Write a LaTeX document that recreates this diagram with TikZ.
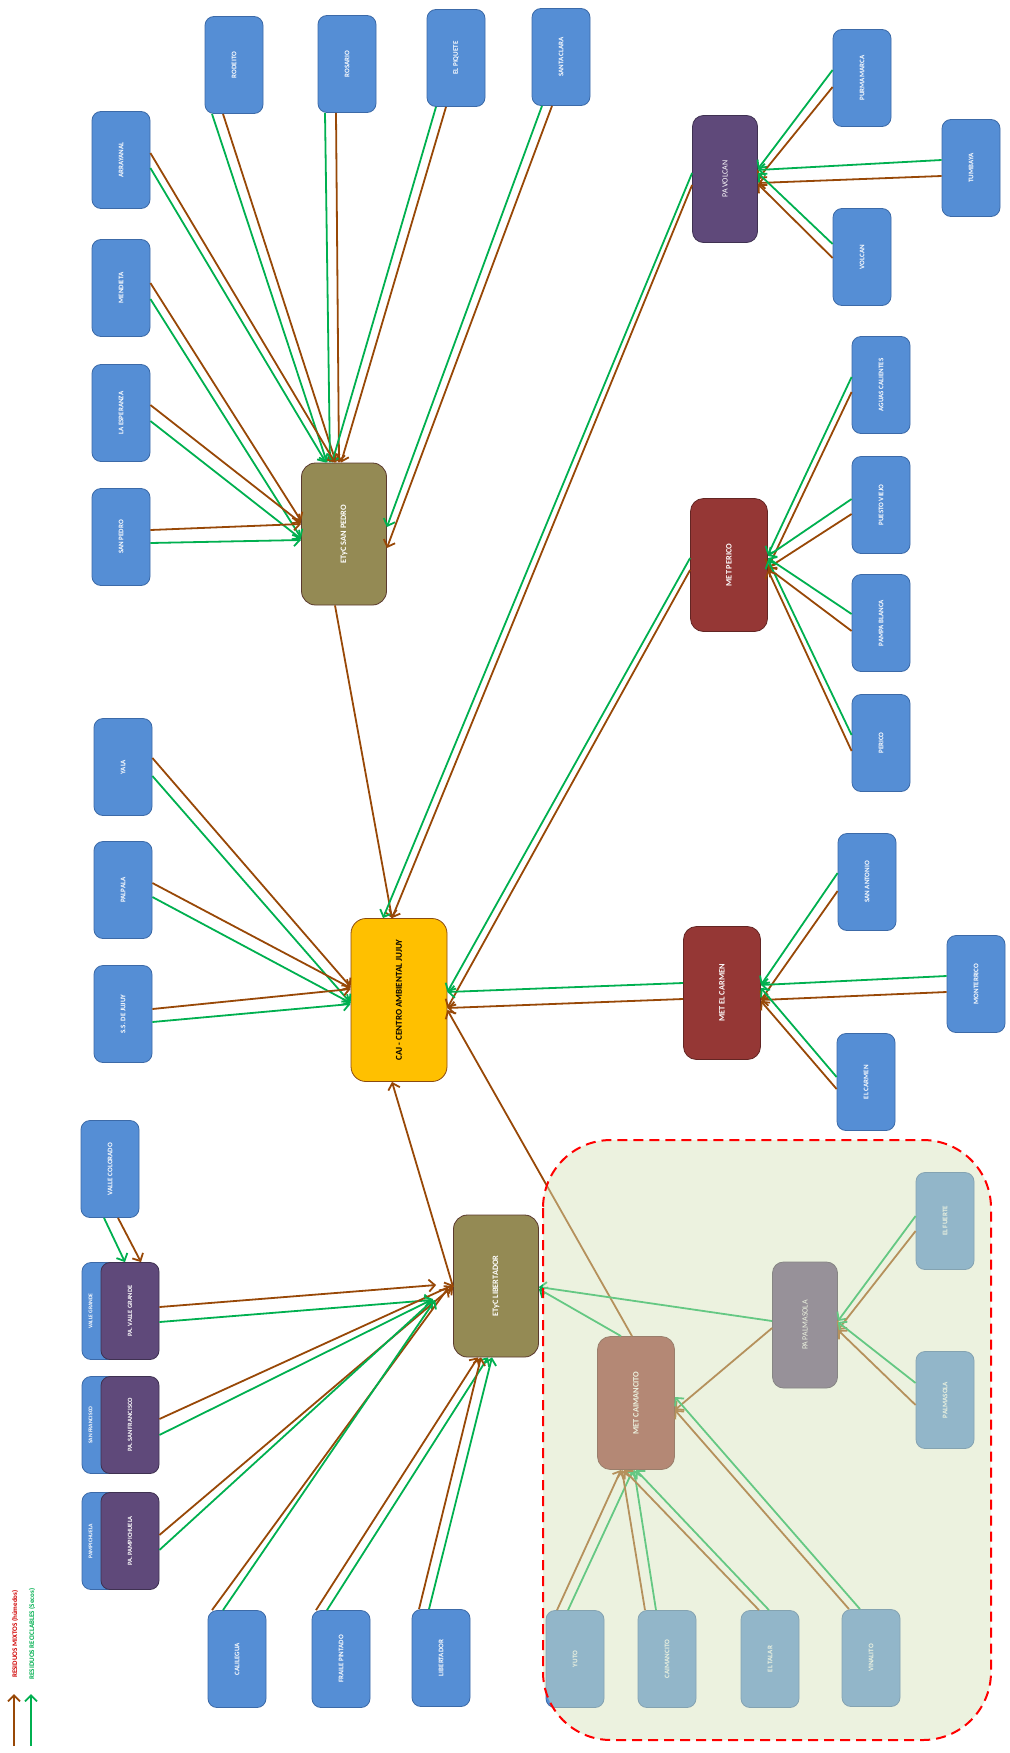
\documentclass[tikz,border=0pt]{standalone}
\usepackage{fontspec}
\setmainfont{Carlito}
\usepackage{graphicx}
\usetikzlibrary{arrows.meta}
\definecolor{cblue}{HTML}{558ED5}
\definecolor{cblueb}{HTML}{3C6AA8}
\definecolor{cpurple}{HTML}{5F497A}
\definecolor{cpurpleb}{HTML}{3F3151}
\definecolor{colive}{HTML}{948A54}
\definecolor{colivb}{HTML}{5B3A2E}
\definecolor{cred}{HTML}{953735}
\definecolor{credb}{HTML}{632523}
\definecolor{ccaj}{HTML}{FFC000}
\definecolor{ccajb}{HTML}{8B4A10}
\definecolor{cmix}{HTML}{984807}
\definecolor{crec}{HTML}{00B050}
\definecolor{cregion}{HTML}{D7E4BD}
\definecolor{clegred}{HTML}{D00000}
\newcommand\vtext[1]{\rotatebox{90}{#1}}
\begin{document}
\begin{tikzpicture}[x=1pt,y=-1pt,
  box/.style={rectangle, rounded corners=9pt, line width=0.8pt, inner sep=0pt,
    minimum width=58pt, minimum height=97pt, align=center},
  town/.style={box, fill=cblue, draw=cblueb, text=white, font=\bfseries\fontsize{7}{8}\selectfont},
  pabig/.style={box, fill=cpurple, draw=cpurpleb, text=white, font=\fontsize{8}{9}\selectfont,
    minimum width=65pt, minimum height=127pt, rounded corners=11pt},
  pasmall/.style={box, fill=cpurple, draw=cpurpleb, text=white, font=\bfseries\fontsize{6.5}{7}\selectfont},
  etyc/.style={box, fill=colive, draw=colivb, text=white, font=\bfseries\fontsize{8.3}{9}\selectfont,
    minimum width=85pt, minimum height=142pt, rounded corners=14pt},
  met/.style={box, fill=cred, draw=credb, text=white, font=\bfseries\fontsize{8.3}{9}\selectfont,
    minimum width=77pt, minimum height=133pt, rounded corners=13pt},
  cajbox/.style={box, fill=ccaj, draw=ccajb, text=black, font=\bfseries\fontsize{9}{10}\selectfont,
    minimum width=96pt, minimum height=163pt, rounded corners=15pt},
  sublab/.style={inner sep=0pt, text=white, font=\bfseries\fontsize{5.6}{6}\selectfont},
  legtext/.style={inner sep=0pt, font=\bfseries\fontsize{7}{8}\selectfont},
  mix/.style={draw=cmix, line width=1.8pt, -{Straight Barb[length=6pt,width=12pt]}},
  rec/.style={draw=crec, line width=1.8pt, -{Straight Barb[length=6pt,width=12pt]}}
]
\useasboundingbox (0,0) rectangle (1009,1753);
\fill[white] (0,0) rectangle (1009,1753);

% ---------- nodes ----------
\node[town] (rodeito) at (234,65) {\vtext{RODEITO}};
\node[town] (rosario) at (347,64) {\vtext{ROSARIO}};
\node[town] (elpiquete) at (456,58) {\vtext{EL PIQUETE}};
\node[town] (santaclara) at (561,57) {\vtext{SANTA CLARA}};
\node[town] (arrayanal) at (121,160) {\vtext{ARRAYANAL}};
\node[town] (mendieta) at (121,288) {\vtext{MENDIETA}};
\node[town] (laesperanza) at (121,413) {\vtext{LA ESPERANZA}};
\node[town] (sanpedro) at (121,537) {\vtext{SAN PEDRO}};
\node[etyc] (etycsp) at (344,534) {\vtext{ETyC SAN PEDRO}};

\node[pabig] (pavolcan) at (725,179) {\vtext{PA VOLCAN}};
\node[town] (purmamarca) at (862,78) {\vtext{PURMAMARCA}};
\node[town] (tumbaya) at (971,168) {\vtext{TUMBAYA}};
\node[town] (volcan) at (862,257) {\vtext{VOLCAN}};

\node[met] (metperico) at (729,565) {\vtext{MET PERICO}};
\node[town] (aguascal) at (881,385) {\vtext{AGUAS CALIENTES}};
\node[town] (puestoviejo) at (881,505) {\vtext{PUESTO VIEJO}};
\node[town] (pampablanca) at (881,623) {\vtext{PAMPA BLANCA}};
\node[town] (perico) at (881,743) {\vtext{PERICO}};

\node[town] (yala) at (123,767) {\vtext{YALA}};
\node[town] (palpala) at (123,890) {\vtext{PALPALA}};
\node[town] (ssjujuy) at (123,1014) {\vtext{S.S. DE JUJUY}};
\node[cajbox] (caj) at (399,1000) {\vtext{CAJ - CENTRO AMBIENTAL JUJUY}};

\node[met] (metcarmen) at (722,993) {\vtext{MET EL CARMEN}};
\node[town] (sanantonio) at (867,882) {\vtext{SAN ANTONIO}};
\node[town] (monterrico) at (976,984) {\vtext{MONTERRICO}};
\node[town] (elcarmen) at (866,1082) {\vtext{EL CARMEN}};

\node[town] (vallecolorado) at (110,1169) {\vtext{VALLE COLORADO}};
\node[town] (vallegrande) at (111,1311) {};
\node[sublab] (vglab) at ([shift={(9,0)}]vallegrande.west) {\vtext{VALLE GRANDE}};
\node[pasmall] (pavallegrande) at (130,1311) {\vtext{PA. VALLE GRANDE}};
\node[town] (sanfrancisco) at (111,1425) {};
\node[sublab] (sflab) at ([shift={(9,0)}]sanfrancisco.west) {\vtext{SAN FRANCISCO}};
\node[pasmall] (pasanfrancisco) at (130,1425) {\vtext{PA. SAN FRANCISCO}};
\node[town] (pampichuela) at (111,1541) {};
\node[sublab] (pplab) at ([shift={(9,0)}]pampichuela.west) {\vtext{PAMPICHUELA}};
\node[pasmall] (papampichuela) at (130,1541) {\vtext{PA. PAMPICHUELA}};

\node[etyc] (etyclib) at (496,1286) {\vtext{ETyC LIBERTADOR}};
\node[town] (calilegua) at (237,1659) {\vtext{CALILEGUA}};
\node[town] (frailepintado) at (341,1659) {\vtext{FRAILE PINTADO}};
\node[town] (libertador) at (441,1658) {\vtext{LIBERTADOR}};

\node[met] (metcaimancito) at (636,1403) {\vtext{MET CAIMANCITO}};
\node[pabig, minimum height=126pt] (papalmasola) at (805,1325) {\vtext{PA PALMASOLA}};
\node[town] (elfuerte) at (945,1221) {\vtext{EL FUERTE}};
\node[town] (palmasola) at (945,1400) {\vtext{PALMASOLA}};
\node[town] (yuto) at (575,1659) {\vtext{YUTO}};
\node[town] (caimancito) at (667,1659) {\vtext{CAIMANCITO}};
\node[town] (eltalar) at (770,1659) {\vtext{EL TALAR}};
\node[town] (vinalito) at (871,1658) {\vtext{VINALITO}};

% ---------- connectors: San Pedro ----------
\draw[rec] ([shift={(-22,0)}]rodeito.south) -- ([shift={(-17,0)}]etycsp.north);
\draw[mix] ([shift={(-11,0)}]rodeito.south) -- ([shift={(-8,0)}]etycsp.north);
\draw[rec] ([shift={(-22,0)}]rosario.south) -- ([shift={(-14,0)}]etycsp.north);
\draw[mix] ([shift={(-11,0)}]rosario.south) -- ([shift={(-5,0)}]etycsp.north);
\draw[rec] ([shift={(-20,0)}]elpiquete.south) -- ([shift={(-12,0)}]etycsp.north);
\draw[mix] ([shift={(-10,0)}]elpiquete.south) -- ([shift={(-3,0)}]etycsp.north);
\draw[rec] ([shift={(-19,0)}]santaclara.south) -- ([shift={(0,-7)}]etycsp.east);
\draw[mix] ([shift={(-9,0)}]santaclara.south) -- ([shift={(0,14)}]etycsp.east);
\draw[mix] ([shift={(0,-7)}]arrayanal.east) -- ([shift={(-9,0)}]etycsp.north);
\draw[rec] ([shift={(0,8)}]arrayanal.east) -- ([shift={(-18,0)}]etycsp.north);
\draw[mix] ([shift={(0,-5)}]mendieta.east) -- ([shift={(0,-13)}]etycsp.west);
\draw[rec] ([shift={(0,11)}]mendieta.east) -- ([shift={(0,4)}]etycsp.west);
\draw[mix] ([shift={(0,-8)}]laesperanza.east) -- ([shift={(0,-11)}]etycsp.west);
\draw[rec] ([shift={(0,8)}]laesperanza.east) -- ([shift={(0,5)}]etycsp.west);
\draw[mix] ([shift={(0,-7)}]sanpedro.east) -- ([shift={(0,-10)}]etycsp.west);
\draw[rec] ([shift={(0,6)}]sanpedro.east) -- ([shift={(0,6)}]etycsp.west);
\draw[mix] ([shift={(-9,0)}]etycsp.south) -- ([shift={(-7,0)}]caj.north);

% ---------- PA Volcan ----------
\draw[rec] ([shift={(0,-8)}]purmamarca.west) -- ([shift={(0,-10)}]pavolcan.east);
\draw[mix] ([shift={(0,9)}]purmamarca.west) -- ([shift={(0,0)}]pavolcan.east);
\draw[rec] ([shift={(0,-8)}]tumbaya.west) -- ([shift={(0,-9)}]pavolcan.east);
\draw[mix] ([shift={(0,8)}]tumbaya.west) -- ([shift={(0,4)}]pavolcan.east);
\draw[rec] ([shift={(0,-13)}]volcan.west) -- ([shift={(0,-6)}]pavolcan.east);
\draw[mix] ([shift={(0,1)}]volcan.west) -- ([shift={(0,5)}]pavolcan.east);
\draw[rec] ([shift={(0,-6)}]pavolcan.west) -- ([shift={(-16,0)}]caj.north);
\draw[mix] ([shift={(0,6)}]pavolcan.west) -- ([shift={(-7,0)}]caj.north);

% ---------- MET Perico ----------
\draw[rec] ([shift={(0,-8)}]aguascal.west) -- ([shift={(0,-10)}]metperico.east);
\draw[mix] ([shift={(0,7)}]aguascal.west) -- ([shift={(0,3)}]metperico.east);
\draw[rec] ([shift={(0,-6)}]puestoviejo.west) -- ([shift={(0,-9)}]metperico.east);
\draw[mix] ([shift={(0,9)}]puestoviejo.west) -- ([shift={(0,3)}]metperico.east);
\draw[rec] ([shift={(0,-9)}]pampablanca.west) -- ([shift={(0,-7)}]metperico.east);
\draw[mix] ([shift={(0,8)}]pampablanca.west) -- ([shift={(0,3)}]metperico.east);
\draw[rec] ([shift={(0,-8)}]perico.west) -- ([shift={(0,-5)}]metperico.east);
\draw[mix] ([shift={(0,8)}]perico.west) -- ([shift={(0,5)}]metperico.east);
\draw[rec] ([shift={(0,-7)}]metperico.west) -- ([shift={(0,-8)}]caj.east);
\draw[mix] ([shift={(0,5)}]metperico.west) -- ([shift={(0,8)}]caj.east);

% ---------- left towns to CAJ ----------
\draw[mix] ([shift={(0,-9)}]yala.east) -- ([shift={(0,-13)}]caj.west);
\draw[rec] ([shift={(0,9)}]yala.east) -- ([shift={(0,3)}]caj.west);
\draw[mix] ([shift={(0,-7)}]palpala.east) -- ([shift={(0,-12)}]caj.west);
\draw[rec] ([shift={(0,7)}]palpala.east) -- ([shift={(0,3)}]caj.west);
\draw[mix] ([shift={(0,-5)}]ssjujuy.east) -- ([shift={(0,-11)}]caj.west);
\draw[rec] ([shift={(0,8)}]ssjujuy.east) -- ([shift={(0,4)}]caj.west);

% ---------- MET El Carmen ----------
\draw[rec] ([shift={(0,-9)}]sanantonio.west) -- ([shift={(0,-8)}]metcarmen.east);
\draw[mix] ([shift={(0,9)}]sanantonio.west) -- ([shift={(0,7)}]metcarmen.east);
\draw[rec] ([shift={(0,-8)}]monterrico.west) -- ([shift={(0,-8)}]metcarmen.east);
\draw[mix] ([shift={(0,8)}]monterrico.west) -- ([shift={(0,7)}]metcarmen.east);
\draw[rec] ([shift={(0,-5)}]elcarmen.west) -- ([shift={(0,-5)}]metcarmen.east);
\draw[mix] ([shift={(0,7)}]elcarmen.west) -- ([shift={(0,8)}]metcarmen.east);
\draw[rec] ([shift={(0,-10)}]metcarmen.west) -- ([shift={(0,-8)}]caj.east);
\draw[mix] ([shift={(0,6)}]metcarmen.west) -- ([shift={(0,8)}]caj.east);

% ---------- to CAJ from the south ----------
\draw[mix] ([shift={(0,1)}]etyclib.west) -- ([shift={(-7,0)}]caj.south);
\draw[mix] ([shift={(-4,0)}]metcaimancito.north) -- ([shift={(0,10)}]caj.east);

% ---------- ETyC Libertador ----------
\draw[rec] ([shift={(-6,0)}]vallecolorado.south) -- ([shift={(-5,0)}]pavallegrande.north);
\draw[mix] ([shift={(8,0)}]vallecolorado.south) -- ([shift={(11,0)}]pavallegrande.north);
\draw[mix] ([shift={(0,-4)}]pavallegrande.east) -- ([shift={(-17,-1)}]etyclib.west);
\draw[rec] ([shift={(0,11)}]pavallegrande.east) -- ([shift={(-21,14)}]etyclib.west);
\draw[mix] ([shift={(0,-6)}]pasanfrancisco.east) -- ([shift={(0,-1)}]etyclib.west);
\draw[rec] ([shift={(0,10)}]pasanfrancisco.east) -- ([shift={(-20,13)}]etyclib.west);
\draw[mix] ([shift={(0,-6)}]papampichuela.east) -- ([shift={(0,0)}]etyclib.west);
\draw[rec] ([shift={(0,9)}]papampichuela.east) -- ([shift={(-20,14)}]etyclib.west);
\draw[mix] ([shift={(-25,0)}]calilegua.north) -- ([shift={(-5,2)}]etyclib.west);
\draw[rec] ([shift={(-14,0)}]calilegua.north) -- ([shift={(-18,14)}]etyclib.west);
\draw[mix] ([shift={(-25,0)}]frailepintado.north) -- ([shift={(-18,0)}]etyclib.south);
\draw[rec] ([shift={(-14,0)}]frailepintado.north) -- ([shift={(-8,0)}]etyclib.south);
\draw[mix] ([shift={(-22,0)}]libertador.north) -- ([shift={(-15,0)}]etyclib.south);
\draw[rec] ([shift={(-12,0)}]libertador.north) -- ([shift={(-4,0)}]etyclib.south);

% ---------- Palmasola / Caimancito ----------
\draw[rec] ([shift={(0,-4)}]papalmasola.west) -- ([shift={(0,1)}]etyclib.east);
\draw[rec] ([shift={(-15,0)}]metcaimancito.north) -- ([shift={(0,3)}]etyclib.east);
\draw[mix] ([shift={(0,3)}]papalmasola.west) -- ([shift={(0,7)}]metcaimancito.east);
\draw[rec] ([shift={(0,-5)}]elfuerte.west) -- ([shift={(0,-4)}]papalmasola.east);
\draw[mix] ([shift={(0,10)}]elfuerte.west) -- ([shift={(0,5)}]papalmasola.east);
\draw[rec] ([shift={(0,-17)}]palmasola.west) -- ([shift={(0,-3)}]papalmasola.east);
\draw[mix] ([shift={(0,5)}]palmasola.west) -- ([shift={(0,5)}]papalmasola.east);
\draw[mix] ([shift={(-18,0)}]yuto.north) -- ([shift={(-15,0)}]metcaimancito.south);
\draw[rec] ([shift={(-7,0)}]yuto.north) -- ([shift={(-3,0)}]metcaimancito.south);
\draw[mix] ([shift={(-22,0)}]caimancito.north) -- ([shift={(-14,0)}]metcaimancito.south);
\draw[rec] ([shift={(-11,0)}]caimancito.north) -- ([shift={(-2,0)}]metcaimancito.south);
\draw[mix] ([shift={(-11,0)}]eltalar.north) -- ([shift={(-12,0)}]metcaimancito.south);
\draw[rec] ([shift={(-1,0)}]eltalar.north) -- ([shift={(0,0)}]metcaimancito.south);
\draw[mix] ([shift={(-22,0)}]vinalito.north) -- ([shift={(0,7)}]metcaimancito.east);
\draw[rec] ([shift={(-11,0)}]vinalito.north) -- ([shift={(0,-6)}]metcaimancito.east);

% ---------- translucent region ----------
\draw[draw=red, line width=2pt, dash pattern=on 10pt off 6pt, fill=cregion, fill opacity=0.47,
  rounded corners=68pt] (543,1140) rectangle (991,1740);

% ---------- legend ----------
\coordinate (lgm0) at (14,1746);
\coordinate (lgm1) at (14,1694);
\coordinate (lgr0) at (31,1746);
\coordinate (lgr1) at (31,1694);
\draw[mix] (lgm0) -- (lgm1);
\draw[rec] (lgr0) -- (lgr1);
\node[legtext, text=clegred] (lgmt) at (15,1634) {\vtext{RESIDUOS MIXTOS (húmedos)}};
\node[legtext, text=crec] (lgrt) at (32,1634) {\vtext{RESIDUOS RECICLABLES (Secos)}};
\end{tikzpicture}
\end{document}
